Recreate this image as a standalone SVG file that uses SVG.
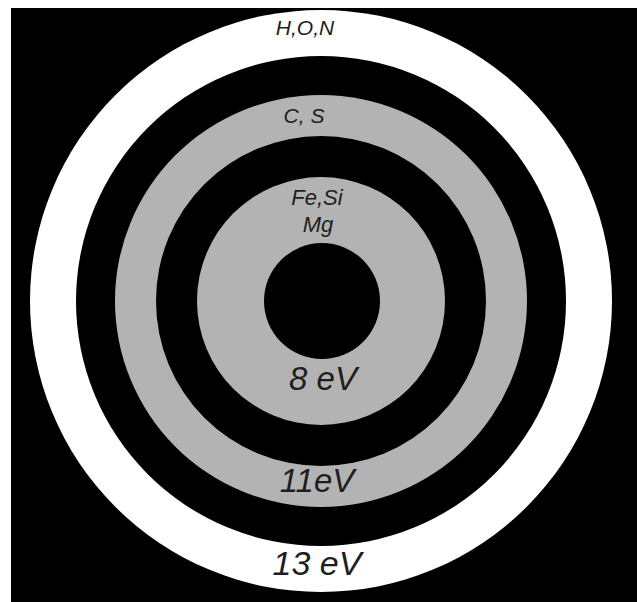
<svg xmlns="http://www.w3.org/2000/svg" width="637" height="602" viewBox="0 0 637 602">
<style>
.t{font-family:"Liberation Sans",Arial,sans-serif;font-style:italic;fill:#1e1e1e;text-anchor:middle}
.g{fill:#b3b3b3}
</style>
<rect x="0" y="0" width="637" height="602" fill="#ffffff"/>
<rect x="11" y="8" width="626" height="594" fill="#000000"/>
<g id="ring-13eV">
<circle cx="321" cy="301" r="291" fill="#ffffff"/>
<circle cx="321" cy="301" r="245" fill="#000000"/>
<text class="t" x="305" y="35" font-size="21">H,O,N</text>
<text class="t" x="317" y="575" font-size="34">13 eV</text>
</g>
<g id="ring-11eV">
<circle cx="321" cy="301" r="206" class="g"/>
<circle cx="321" cy="301" r="165" fill="#000000"/>
<text class="t" x="304" y="123" font-size="21">C, S</text>
<text class="t" x="317" y="492" font-size="33">11eV</text>
</g>
<g id="ring-8eV">
<circle cx="321" cy="301" r="124" class="g"/>
<circle cx="322" cy="301" r="58" fill="#000000"/>
<text class="t" x="317" y="205" font-size="22">Fe,Si</text>
<text class="t" x="318" y="232" font-size="22">Mg</text>
<text class="t" x="323" y="390" font-size="33">8 eV</text>
</g>
<g id="connectors"/>
</svg>
